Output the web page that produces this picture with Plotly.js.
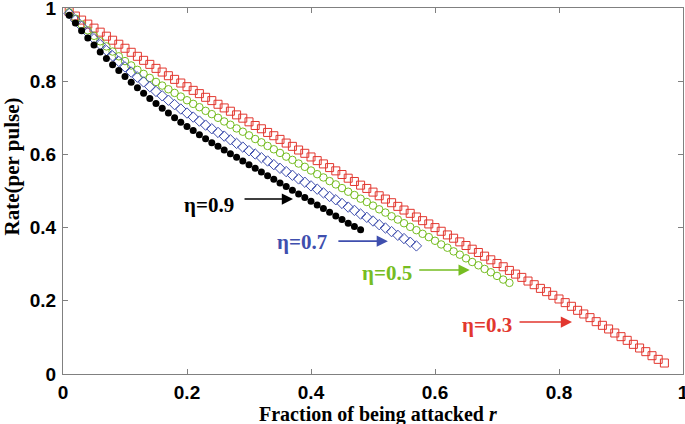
<!DOCTYPE html>
<html>
<head>
<meta charset="utf-8">
<script src="https://cdn.plot.ly/plotly-3.0.1.min.js"></script>
<style>html,body{margin:0;padding:0;background:#fff;}#chart{width:685px;height:424px;}</style>
</head>
<body>
<div id="chart"></div>
<script>
// Fraction of being attacked r (shared grid of sample points)
const rValues = [0.01,0.02,0.03,0.04,0.05,0.06,0.07,0.08,0.09,0.10,
  0.11,0.12,0.13,0.14,0.15,0.16,0.17,0.18,0.19,0.20,
  0.21,0.22,0.23,0.24,0.25,0.26,0.27,0.28,0.29,0.30,
  0.31,0.32,0.33,0.34,0.35,0.36,0.37,0.38,0.39,0.40,
  0.41,0.42,0.43,0.44,0.45,0.46,0.47,0.48,0.49,0.50,
  0.51,0.52,0.53,0.54,0.55,0.56,0.57,0.58,0.59,0.60,
  0.61,0.62,0.63,0.64,0.65,0.66,0.67,0.68,0.69,0.70,
  0.71,0.72,0.73,0.74,0.75,0.76,0.77,0.78,0.79,0.80,
  0.81,0.82,0.83,0.84,0.85,0.86,0.87,0.88,0.89,0.90,
  0.91,0.92,0.93,0.94,0.95,0.96,0.97];

// eta = 0.3 (red squares)
const rate03 = [0.990,0.978,0.967,0.956,0.945,0.934,0.923,0.912,0.901,0.890,
  0.879,0.868,0.857,0.846,0.835,0.825,0.815,0.805,0.795,0.785,
  0.775,0.766,0.756,0.747,0.737,0.727,0.718,0.708,0.699,0.689,
  0.679,0.670,0.660,0.651,0.641,0.631,0.622,0.612,0.603,0.593,
  0.583,0.574,0.564,0.555,0.545,0.535,0.526,0.516,0.507,0.497,
  0.487,0.478,0.468,0.458,0.448,0.439,0.429,0.419,0.410,0.400,
  0.390,0.380,0.371,0.361,0.351,0.341,0.332,0.322,0.312,0.302,
  0.293,0.283,0.273,0.264,0.254,0.244,0.234,0.225,0.215,0.205,
  0.195,0.185,0.174,0.164,0.154,0.143,0.133,0.123,0.112,0.102,
  0.092,0.081,0.071,0.061,0.050,0.040,0.030];

// eta = 0.5 (green circles)
const rate05 = [0.988,0.971,0.955,0.939,0.924,0.909,0.895,0.881,0.868,0.855,
  0.843,0.831,0.820,0.809,0.798,0.788,0.778,0.768,0.758,0.748,
  0.738,0.729,0.719,0.710,0.700,0.690,0.681,0.671,0.662,0.652,
  0.642,0.633,0.623,0.614,0.604,0.594,0.585,0.575,0.566,0.556,
  0.546,0.537,0.527,0.518,0.508,0.498,0.489,0.479,0.470,0.460,
  0.450,0.441,0.431,0.422,0.412,0.402,0.393,0.383,0.374,0.364,
  0.354,0.345,0.335,0.326,0.316,0.306,0.297,0.287,0.278,0.268,
  0.258,0.249];

// eta = 0.7 (blue diamonds)
const rate07 = [0.985,0.967,0.950,0.933,0.916,0.900,0.884,0.869,0.854,0.839,
  0.825,0.811,0.798,0.785,0.772,0.760,0.748,0.736,0.724,0.713,
  0.702,0.691,0.680,0.670,0.660,0.650,0.640,0.630,0.620,0.610,
  0.601,0.591,0.582,0.572,0.562,0.553,0.543,0.533,0.524,0.514,
  0.505,0.495,0.485,0.476,0.466,0.456,0.447,0.437,0.428,0.418,
  0.408,0.399,0.389,0.379,0.370,0.360,0.350];

// eta = 0.9 (black dots)
const rate09 = [0.980,0.959,0.938,0.918,0.899,0.880,0.862,0.845,0.829,0.813,
  0.797,0.782,0.767,0.753,0.739,0.726,0.713,0.700,0.688,0.676,
  0.665,0.654,0.643,0.632,0.622,0.612,0.602,0.592,0.582,0.572,
  0.562,0.552,0.542,0.532,0.522,0.512,0.502,0.492,0.482,0.472,
  0.462,0.452,0.442,0.432,0.422,0.412,0.403,0.394];

const tickVals = [0, 0.2, 0.4, 0.6, 0.8, 1];
const tickText = ['0', '0.2', '0.4', '0.6', '0.8', '1'];
const etaLabels = ['\u03b7=0.9', '\u03b7=0.7', '\u03b7=0.5', '\u03b7=0.3'];

const cRed = '#e2372f', cGreen = '#76bd22', cBlue = '#3f4fae', cBlack = '#000000';

const traces = [
  {x: rValues.slice(0, rate03.length), y: rate03, mode: 'markers', type: 'scatter', cliponaxis: false,
   marker: {symbol: 'square-open', size: 8, color: cRed, line: {width: 1, color: cRed}}},
  {x: rValues.slice(0, rate05.length), y: rate05, mode: 'markers', type: 'scatter', cliponaxis: false,
   marker: {symbol: 'circle-open', size: 7.5, color: cGreen, line: {width: 1, color: cGreen}}},
  {x: rValues.slice(0, rate07.length), y: rate07, mode: 'markers', type: 'scatter', cliponaxis: false,
   marker: {symbol: 'diamond-open', size: 8, color: cBlue, line: {width: 1, color: cBlue}}},
  {x: rValues.slice(0, rate09.length), y: rate09, mode: 'markers', type: 'scatter', cliponaxis: false,
   marker: {symbol: 'circle', size: 7, color: cBlack, line: {width: 0}}}
];

const annFont = {family: '"Liberation Serif", "Times New Roman", serif', size: 21};
function label(text, x, y, color) {
  return {text: '<b>' + text + '</b>', x: x, y: y, xref: 'x', yref: 'y', showarrow: false,
          xanchor: 'center', yanchor: 'middle', font: Object.assign({color: color}, annFont)};
}
function arrow(x, y, ax, color) {
  return {text: '', x: x, y: y, xref: 'x', yref: 'y', showarrow: true, ax: ax, ay: 0,
          arrowhead: 2, arrowsize: 1.4, arrowwidth: 1.6, arrowcolor: color, standoff: 0, startstandoff: 0};
}

const annotations = [
  label(etaLabels[0], 0.235, 0.462, cBlack), arrow(0.371, 0.478, -50, cBlack),
  label(etaLabels[1], 0.385, 0.361, cBlue), arrow(0.524, 0.363, -51, cBlue),
  label(etaLabels[2], 0.523, 0.276, cGreen), arrow(0.656, 0.284, -52, cGreen),
  label(etaLabels[3], 0.684, 0.134, cRed), arrow(0.821, 0.142, -54, cRed),
  {text: '<b>Rate(per pulse)</b>', xref: 'paper', yref: 'paper', x: -0.083, y: 0.566,
   textangle: -90, showarrow: false, xanchor: 'center', yanchor: 'middle',
   font: {family: '"Liberation Serif", "Times New Roman", serif', size: 21, color: '#000'}},
  {text: '<b>Fraction of being attacked <i>r</i></b>', xref: 'paper', yref: 'paper', x: 0.508, y: -0.112,
   showarrow: false, xanchor: 'center', yanchor: 'middle',
   font: {family: '"Liberation Serif", "Times New Roman", serif', size: 20, color: '#000'}}
];

const axisCommon = {
  range: [0, 1], tickvals: tickVals, ticktext: tickText, ticks: 'inside', ticklen: 5,
  tickcolor: '#808080', tickwidth: 1, showline: true, linecolor: '#808080', linewidth: 1,
  mirror: 'ticks', showgrid: false, zeroline: false, ticklabeloverflow: 'allow',
  tickfont: {family: '"Liberation Sans", Arial, sans-serif', size: 19, color: '#000', weight: 'bold'}
};

const layout = {
  width: 685, height: 424,
  margin: {l: 63, r: 2, t: 8, b: 50},
  paper_bgcolor: '#fff', plot_bgcolor: '#fff',
  showlegend: false,
  xaxis: Object.assign({}, axisCommon, {ticklabelstandoff: 1}),
  yaxis: Object.assign({}, axisCommon, {ticklabelstandoff: 2}),
  annotations: annotations
};

Plotly.newPlot('chart', traces, layout, {displayModeBar: false, staticPlot: true});
</script>
</body>
</html>
